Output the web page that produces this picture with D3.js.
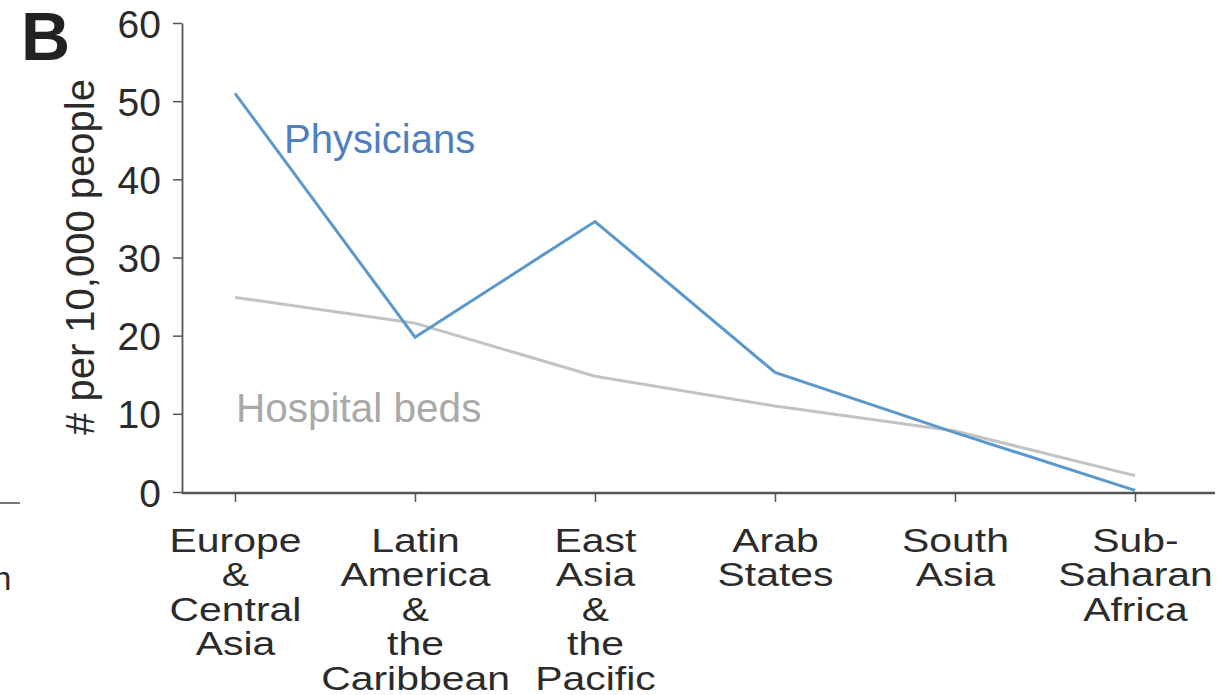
<!DOCTYPE html>
<html>
<head>
<meta charset="utf-8">
<script src="https://cdn.jsdelivr.net/npm/d3@7"></script>
<style>
  body { margin: 0; background: #fff; }
  svg { font-family: "Liberation Sans", Arial, sans-serif; }
  .axis path, .axis line { stroke: #555; }
  .axis text { fill: #2b2b2b; }
</style>
</head>
<body>
<svg id="chart"></svg>
<script>
// Base SVG values
let width = 1229
let height = 695

// Data
let regions = [
  ["Europe", "&", "Central", "Asia"],
  ["Latin", "America", "&", "the", "Caribbean"],
  ["East", "Asia", "&", "the", "Pacific"],
  ["Arab", "States"],
  ["South", "Asia"],
  ["Sub-", "Saharan", "Africa"]
]
let physicians = [51, 19.8, 34.6, 15.3, 7.6, 0.2]
let hospitalBeds = [24.9, 21.6, 14.8, 11, 7.8, 2.1]
let yTicks = [0, 10, 20, 30, 40, 50, 60]

let svg = d3.select("#chart")
  .attr("width", width)
  .attr("height", height)

// Scales
let xScale = d3.scalePoint()
  .domain(d3.range(regions.length))
  .range([235, 1135])

let yScale = d3.scaleLinear()
  .domain([0, 60])
  .range([492, 23])

// Y axis
let axisL = d3.axisLeft(yScale)
  .tickValues(yTicks)
  .tickSize(9)
  .tickSizeOuter(0)
  .tickPadding(12)

svg.append("g")
  .attr("class", "axis")
  .attr("transform", "translate(182,0)")
  .call(axisL)
  .call(g => g.select(".domain").attr("stroke-width", 1.8))
  .call(g => g.selectAll("line").attr("stroke-width", 1.5))
  .call(g => g.selectAll("text").style("font-size", "39px").attr("dy", "0.36em"))

// X axis
let axisB = d3.axisBottom(xScale)
  .tickSize(9)
  .tickSizeOuter(0)
  .tickFormat("")

let xg = svg.append("g")
  .attr("class", "axis")
  .attr("transform", "translate(0,493)")
  .call(axisB)

// extend domain line to match the frame
xg.select(".domain")
  .attr("d", "M182,0H1215")
  .attr("stroke-width", 2.5)
xg.selectAll(".tick line").attr("stroke-width", 1.5)

// labels in the original are horizontally stretched
xg.selectAll(".tick")
  .append("text")
  .attr("text-anchor", "middle")
  .attr("transform", "scale(1.24,1)")
  .style("font-size", "33px")
  .each(function(d) {
    let t = d3.select(this)
    regions[d].forEach((line, i) => {
      t.append("tspan")
        .attr("x", 0)
        .attr("y", 59 + i * 34.5)
        .text(line)
    })
  })

// Lines
let line = d3.line()
  .x((d, i) => xScale(i))
  .y(d => yScale(d))

svg.append("path")
  .datum(hospitalBeds)
  .attr("fill", "none")
  .attr("stroke", "#c3c3c3")
  .attr("stroke-width", 3)
  .attr("d", line)

svg.append("path")
  .datum(physicians)
  .attr("fill", "none")
  .attr("stroke", "#5b98cc")
  .attr("stroke-width", 3)
  .attr("d", line)

// Series labels
svg.append("text")
  .attr("x", 284)
  .attr("y", 153)
  .style("font-size", "40px")
  .attr("fill", "#4f7fbf")
  .text("Physicians")

svg.append("text")
  .attr("x", 236)
  .attr("y", 422)
  .style("font-size", "40.5px")
  .attr("fill", "#a9a9a9")
  .text("Hospital beds")

// Axis label
svg.append("text")
  .attr("transform", "rotate(-90)")
  .attr("x", -257)
  .attr("y", 94)
  .style("text-anchor", "middle")
  .style("font-size", "40px")
  .attr("fill", "#2b2b2b")
  .text("# per 10,000 people")

// Panel letter
svg.append("text")
  .attr("x", 21)
  .attr("y", 60)
  .style("font-size", "68px")
  .style("font-weight", "bold")
  .attr("fill", "#222")
  .text("B")

// Remnants of the neighbouring panel
svg.append("line")
  .attr("x1", 0).attr("x2", 20)
  .attr("y1", 503).attr("y2", 503)
  .attr("stroke", "#777")
  .attr("stroke-width", 2)

svg.append("text")
  .attr("x", -7)
  .attr("y", 590)
  .style("font-size", "33px")
  .attr("fill", "#2b2b2b")
  .text("n")
</script>
</body>
</html>
